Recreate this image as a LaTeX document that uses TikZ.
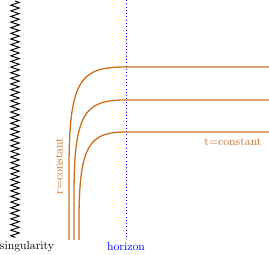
\documentclass[tikz,border=0pt]{standalone}
\usepackage{amssymb}
\usepackage{amsmath}
\usepackage{tikz}
\usetikzlibrary{decorations.pathmorphing}
\definecolor{slice}{RGB}{204,110,30}

\begin{document}
\begin{tikzpicture}[x=0.03cm, y=-0.03cm]
\useasboundingbox (0, 0) rectangle (269, 255);
\draw[thick, decorate, decoration={zigzag, segment length=4.8, amplitude=3.6}] (15, 1) -- (15, 238);
\draw[blue, thick, dotted] (126, 0) -- (126, 238);
\draw[slice, line width=1.1pt] (69, 240) -- (69, 170) .. controls (69, 80) and (80, 67) .. (125, 67) -- (269, 67);
\draw[slice, line width=1.1pt] (74, 240) -- (74, 195) .. controls (74, 112) and (85, 100) .. (126, 100) -- (269, 100);
\draw[slice, line width=1.1pt] (79, 240) -- (79, 220) .. controls (79, 144) and (90, 132) .. (126, 132) -- (269, 132);
\draw (27, 247) node(sing) {singularity};
\draw (126, 247) node(hor) {\textcolor{blue}{horizon}};
\draw (59, 166) node[rotate=90, slice](rconst) {r=constant};
\draw (233, 142) node[slice](tconst) {t=constant};
\end{tikzpicture}
\end{document}
